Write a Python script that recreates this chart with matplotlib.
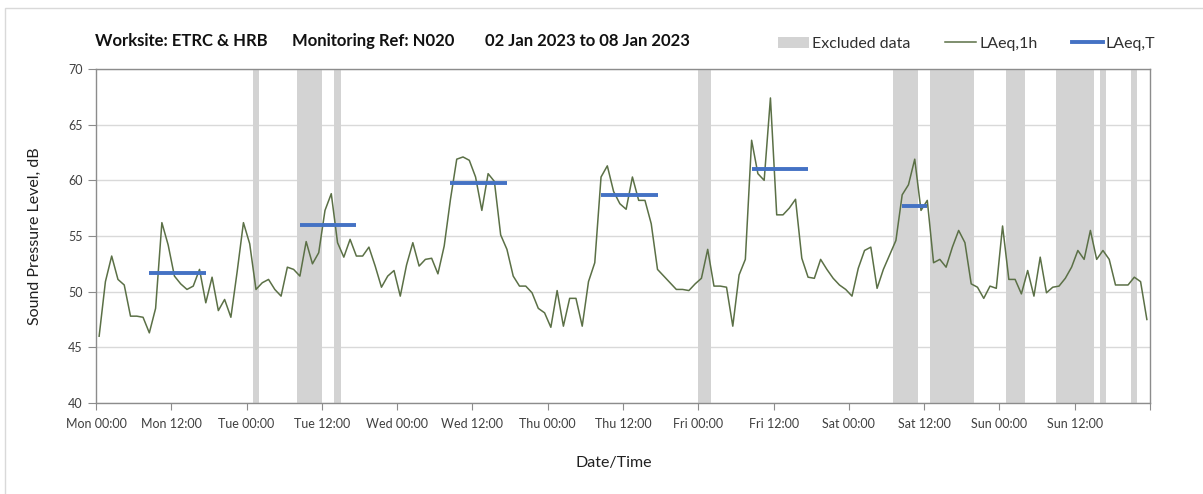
import matplotlib
matplotlib.use("Agg")
import matplotlib.pyplot as plt
from matplotlib.patches import Patch, Rectangle
from matplotlib.lines import Line2D

plt.rcParams['font.family'] = ['Lato', 'DejaVu Sans']

# hourly LAeq,1h values, Mon 00:00 .. Sun 23:00 (168 hours)
laeq_1h = [
    46.0, 50.9, 53.2, 51.1, 50.6, 47.8, 47.8, 47.7, 46.3, 48.5, 56.2, 54.2,
    51.4, 50.7, 50.2, 50.5, 52.0, 49.0, 51.3, 48.3, 49.3, 47.7, 51.8, 56.2,
    54.3, 50.2, 50.8, 51.1, 50.2, 49.6, 52.2, 52.0, 51.4, 54.5, 52.5, 53.5,
    57.3, 58.8, 54.4, 53.1, 54.7, 53.2, 53.2, 54.0, 52.3, 50.4, 51.4, 51.9,
    49.6, 52.4, 54.4, 52.3, 52.9, 53.0, 51.6, 54.1, 58.3, 61.9, 62.1, 61.8,
    60.3, 57.3, 60.6, 59.9, 55.1, 53.8, 51.4, 50.5, 50.5, 49.9, 48.5, 48.1,
    46.8, 50.1, 46.9, 49.4, 49.4, 46.9, 50.9, 52.6, 60.3, 61.3, 59.0, 57.9,
    57.4, 60.3, 58.2, 58.2, 56.1, 52.0, 51.4, 50.8, 50.2, 50.2, 50.1, 50.7,
    51.2, 53.8, 50.5, 50.5, 50.4, 46.9, 51.5, 52.9, 63.6, 60.6, 60.0, 67.4,
    56.9, 56.9, 57.5, 58.3, 53.0, 51.3, 51.2, 52.9, 52.0, 51.2, 50.6, 50.2,
    49.6, 52.1, 53.7, 54.0, 50.3, 52.0, 53.3, 54.6, 58.7, 59.6, 61.9, 57.3,
    58.2, 52.6, 52.9, 52.2, 54.0, 55.5, 54.4, 50.7, 50.4, 49.4, 50.5, 50.3,
    55.9, 51.1, 51.1, 49.8, 51.9, 49.6, 53.1, 49.9, 50.4, 50.5, 51.2, 52.2,
    53.7, 52.9, 55.5, 52.9, 53.7, 52.9, 50.6, 50.6, 50.6, 51.3, 50.9, 47.5,
]
hours = [h + 0.5 for h in range(len(laeq_1h))]

# LAeq,T periods (start hour, end hour, level)
laeq_t_start = [8.5, 32.5, 56.5, 80.5, 104.5, 128.5]
laeq_t_end = [17.5, 41.5, 65.5, 89.5, 113.5, 132.5]
laeq_t_level = [51.7, 56.0, 59.8, 58.7, 61.0, 57.7]

# excluded periods (start hour, end hour)
excl_start = [25, 32, 38, 96, 127, 133, 145, 153, 160, 165]
excl_end = [26, 36, 39, 98, 131, 140, 148, 159, 161, 166]

tick_hours = list(range(0, 168, 12))
tick_labels = ["Mon 00:00", "Mon 12:00", "Tue 00:00", "Tue 12:00", "Wed 00:00",
               "Wed 12:00", "Thu 00:00", "Thu 12:00", "Fri 00:00", "Fri 12:00",
               "Sat 00:00", "Sat 12:00", "Sun 00:00", "Sun 12:00"]

title_parts = ["Worksite: ETRC & HRB", "Monitoring Ref: N020", "02 Jan 2023 to 08 Jan 2023"]

W, H = 1203, 494
fig = plt.figure(figsize=(W / 100, H / 100), dpi=100)
ax = fig.add_axes([96 / W, 1 - 403 / H, 1054 / W, 334 / H])

grey = "#d3d3d3"
for s, e in zip(excl_start, excl_end):
    ax.axvspan(s, e, color=grey, lw=0, zorder=1)

ax.plot(hours, laeq_1h, color="#5b7046", lw=1.1, zorder=3)
for s, e, v in zip(laeq_t_start, laeq_t_end, laeq_t_level):
    ax.plot([s, e], [v, v], color="#4472c4", lw=2.8, solid_capstyle="butt", zorder=4)

ax.set_xlim(0, 168)
ax.set_ylim(40, 70)
ax.set_yticks(range(40, 71, 5))
ax.set_xticks(tick_hours + [168])
ax.set_xticklabels(tick_labels + [""])
ax.set_xticks(range(24, 168, 24), minor=True)
ax.grid(axis="y", color="#d9d9d9", lw=1.0, zorder=0)
ax.grid(axis="x", which="minor", color="#d9d9d9", lw=1.0, zorder=0)
ax.set_axisbelow(True)

for side in ["left", "bottom", "top", "right"]:
    ax.spines[side].set_color("#8c8c8c")
    ax.spines[side].set_linewidth(1.0)
ax.tick_params(axis="y", length=6, color="#8c8c8c", labelsize=9, labelcolor="#404040")
ax.tick_params(axis="x", which="major", length=5, color="#8c8c8c", labelsize=9,
               labelcolor="#404040", pad=6)
ax.tick_params(axis="x", which="minor", length=0)

ax.set_xlabel("Date/Time", fontsize=11.5, color="#202020")
ax.xaxis.label.set_va("center")
ax.xaxis.set_label_coords((614 - 96) / 1054, -(463 - 403) / 334)
ax.set_ylabel("Sound Pressure Level, dB", fontsize=11.5, color="#202020")
ax.yaxis.label.set_va("center")
ax.yaxis.set_label_coords(-(96 - 35) / 1054, 0.5)

for xpix, part in zip([95, 292, 485], title_parts):
    fig.text(xpix / W, 1 - 41 / H, part, fontsize=12, fontweight="bold",
             ha="left", va="center", color="#111111")

handles = [Patch(facecolor=grey, edgecolor="none"),
           Line2D([], [], color="#5b7046", lw=1.1),
           Line2D([], [], color="#4472c4", lw=2.8)]
fig.legend(handles, ["Excluded data", "LAeq,1h", "LAeq,T"], loc="center",
           bbox_to_anchor=(967 / W, 1 - 44 / H), ncol=3, frameon=False,
           fontsize=11.5, handlelength=1.9, handletextpad=0.2, columnspacing=2.2,
           labelcolor="#303030")

# light frame around the chart area
fig.patches.append(Rectangle((5 / W, -0.1), 1.2, 1.1 - 8 / H, transform=fig.transFigure,
                             fill=False, edgecolor="#d9d9d9", lw=1.0))

fig.savefig("out.png", dpi=100)
